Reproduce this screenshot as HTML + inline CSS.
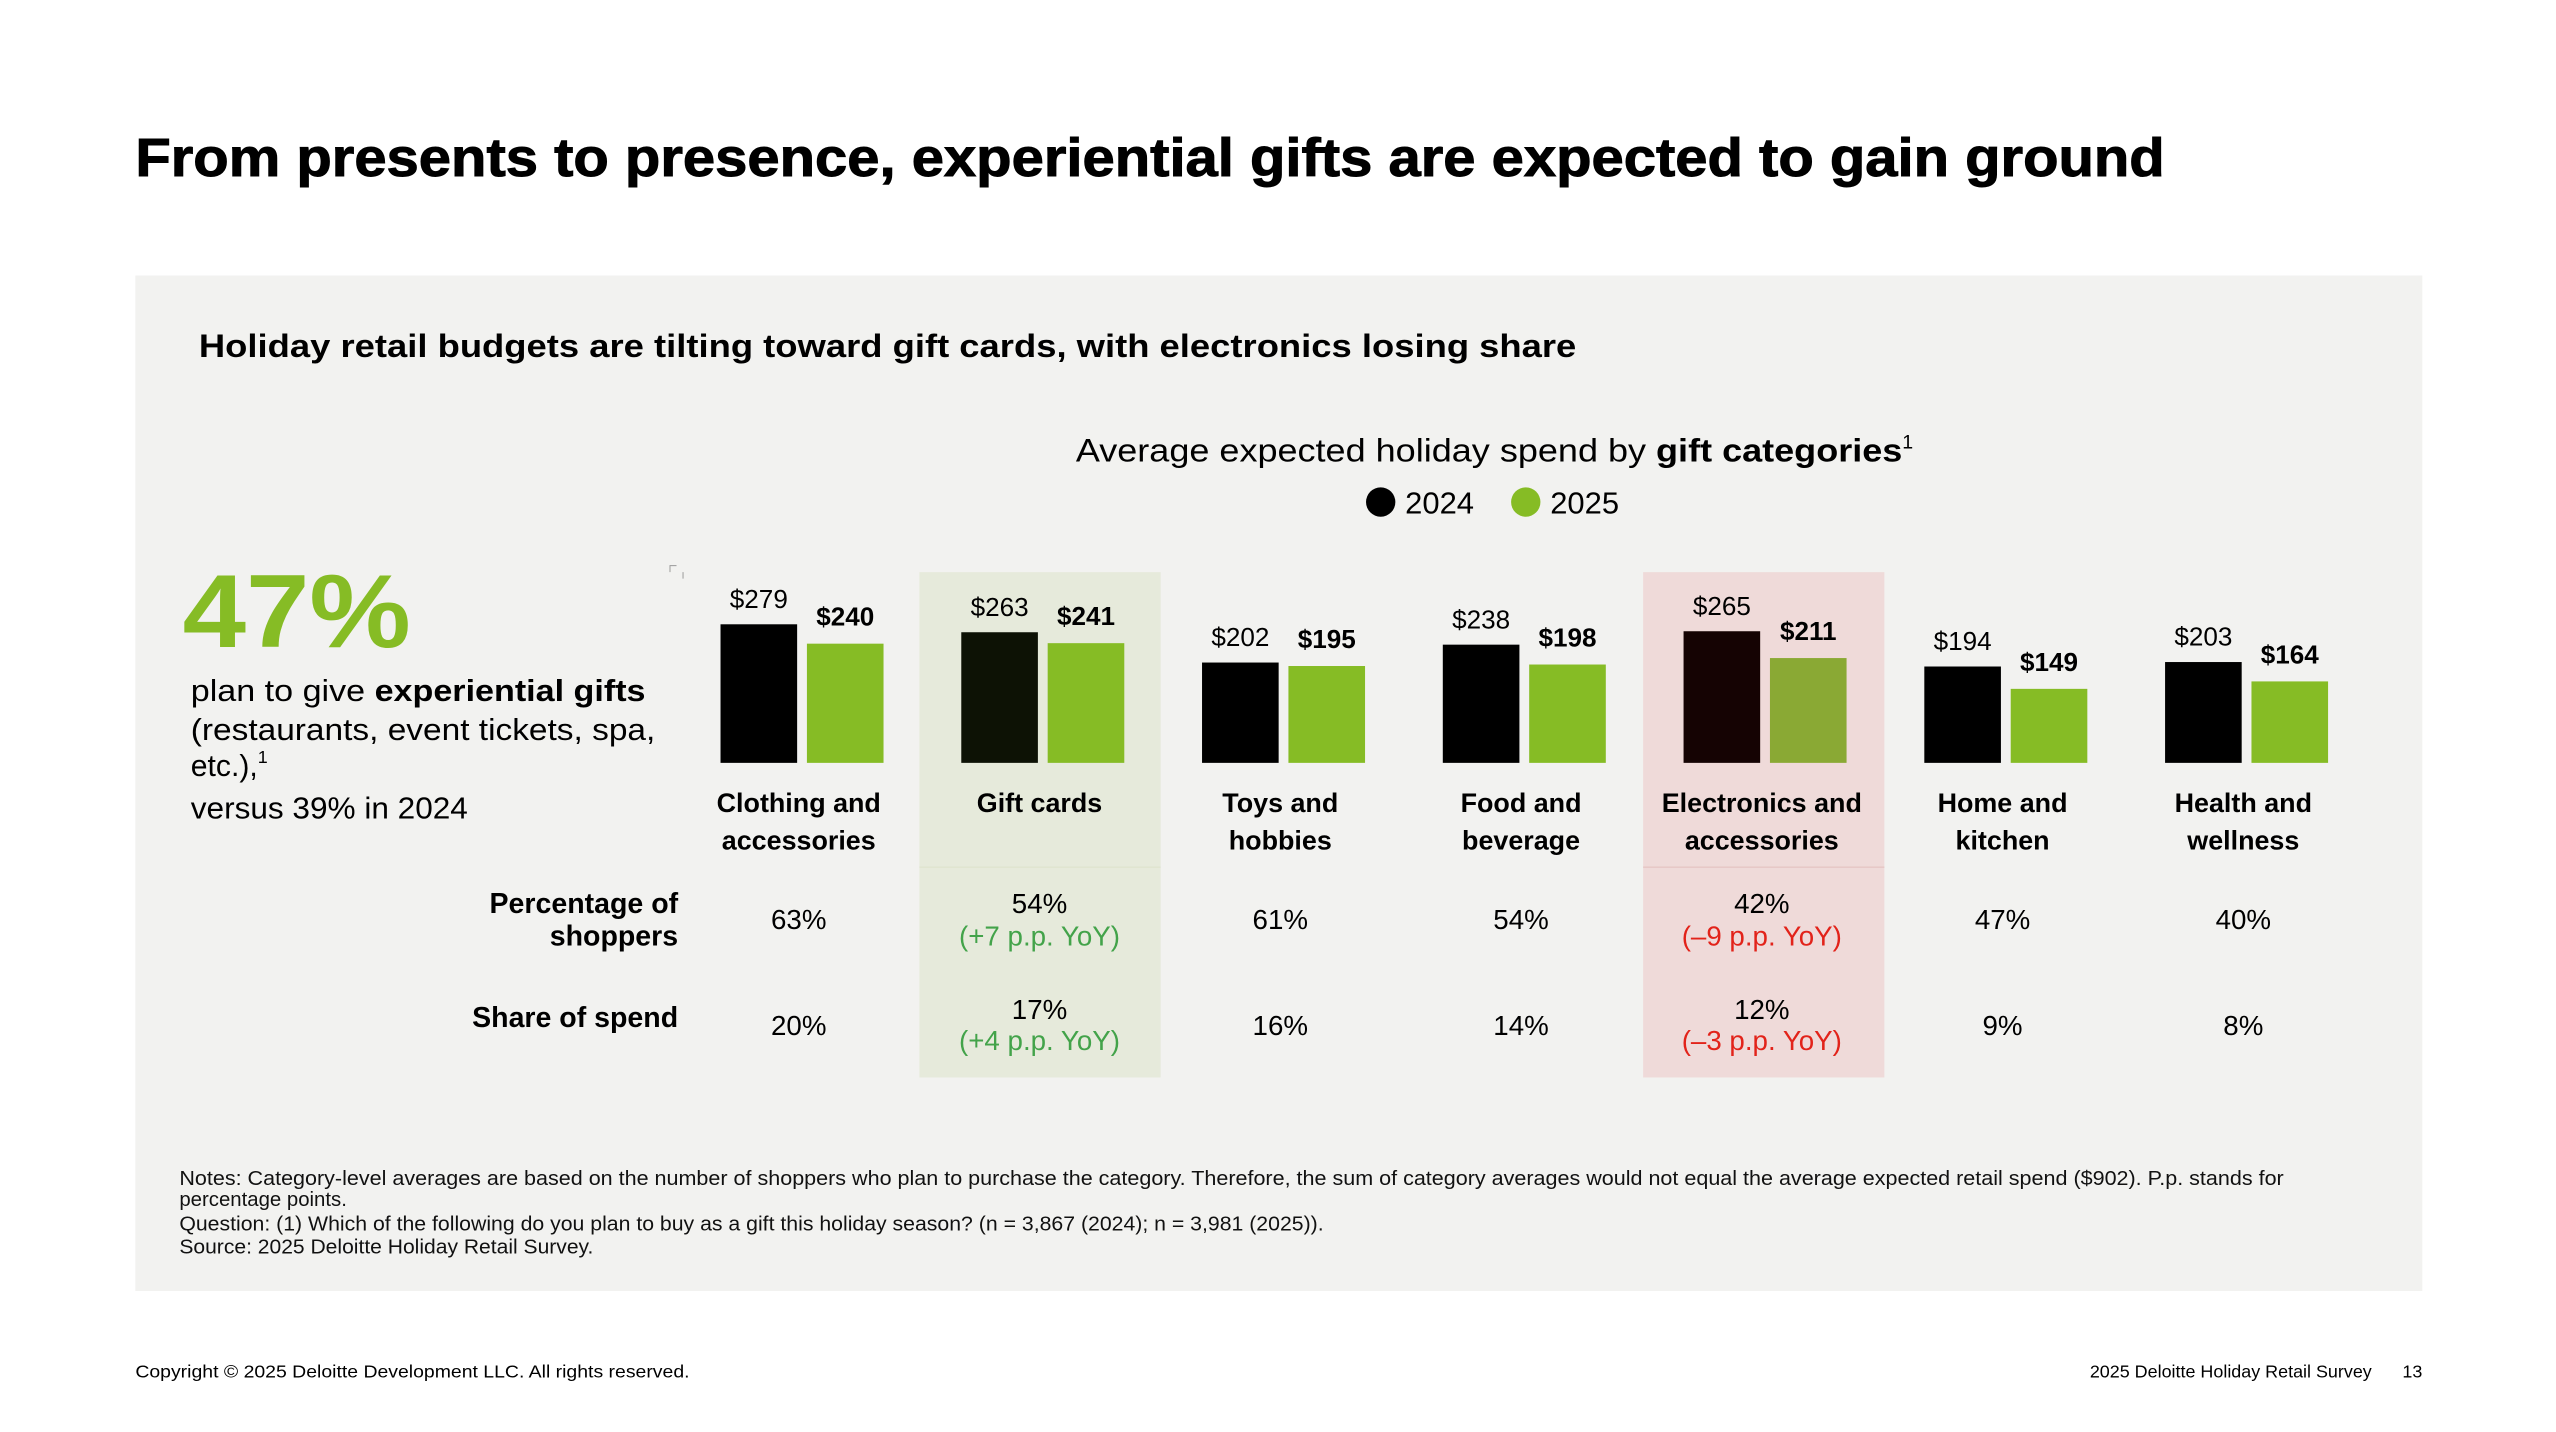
<!DOCTYPE html>
<html><head><meta charset="utf-8"><style>
html,body{margin:0;padding:0;background:#fff;}
svg{display:block;font-family:"Liberation Sans",sans-serif;}
</style></head><body>
<svg id="chart" width="2556" height="1432" viewBox="0 0 1568 878.5" xmlns="http://www.w3.org/2000/svg">
<text x="83" y="108" font-size="33" font-weight="bold" fill="#000" stroke="#000" stroke-width="0.6" textLength="1245" lengthAdjust="spacingAndGlyphs">From presents to presence, experiential gifts are expected to gain ground</text>
<rect x="83" y="169" width="1403" height="623" fill="#f2f2f0"/>
<text x="122" y="219" font-size="20" font-weight="bold" textLength="845" lengthAdjust="spacingAndGlyphs">Holiday retail budgets are tilting toward gift cards, with electronics losing share</text>
<rect x="564" y="351" width="148" height="310" fill="#e6eadb"/>
<rect x="1008" y="351" width="148" height="310" fill="#efdad9"/>
<line x1="564" y1="532" x2="712" y2="532" stroke="#dfe4cf" stroke-width="0.8"/>
<line x1="1008" y1="532" x2="1156" y2="532" stroke="#e6c6c4" stroke-width="0.8"/>
<text x="660" y="283" font-size="20" textLength="507" lengthAdjust="spacingAndGlyphs">Average expected holiday spend by <tspan font-weight="bold">gift categories</tspan></text>
<text x="1167" y="275" font-size="12">1</text>
<g>
<circle cx="847" cy="308" r="9" fill="#000"/>
<text x="862" y="315" font-size="19">2024</text>
<circle cx="936" cy="308" r="9" fill="#86bc25"/>
<text x="951" y="315" font-size="19">2025</text>
</g>
<text x="112" y="397" font-size="64" font-weight="bold" fill="#86bc25" textLength="140" lengthAdjust="spacingAndGlyphs">47%</text>
<g font-size="18.5">
<text x="117" y="430" textLength="279" lengthAdjust="spacingAndGlyphs">plan to give <tspan font-weight="bold">experiential gifts</tspan></text>
<text x="117" y="454" textLength="285" lengthAdjust="spacingAndGlyphs">(restaurants, event tickets, spa,</text>
<text x="117" y="476">etc.),<tspan font-size="11" dy="-8">1</tspan></text>
<text x="117" y="502" textLength="170" lengthAdjust="spacingAndGlyphs">versus 39% in 2024</text>
</g>
<path d="M411 351 V347 H415 M419 351 V355" stroke="#999" stroke-width="0.6" fill="none"/>
<g font-size="17.5" font-weight="bold" text-anchor="end">
<text x="416" y="560">Percentage of</text>
<text x="416" y="580">shoppers</text>
<text x="416" y="630">Share of spend</text>
</g>
<g id="bars"></g>
<g font-size="12.5" fill="#111">
<text x="110" y="727" textLength="1291" lengthAdjust="spacingAndGlyphs">Notes: Category-level averages are based on the number of shoppers who plan to purchase the category. Therefore, the sum of category averages would not equal the average expected retail spend ($902). P.p. stands for</text>
<text x="110" y="740">percentage points.</text>
<text x="110" y="755" textLength="702" lengthAdjust="spacingAndGlyphs">Question: (1) Which of the following do you plan to buy as a gift this holiday season? (n = 3,867 (2024); n = 3,981 (2025)).</text>
<text x="110" y="769" textLength="254" lengthAdjust="spacingAndGlyphs">Source: 2025 Deloitte Holiday Retail Survey.</text>
</g>
<text x="83" y="845" font-size="11" textLength="340" lengthAdjust="spacingAndGlyphs">Copyright © 2025 Deloitte Development LLC. All rights reserved.</text>
<text x="1455" y="845" font-size="11" text-anchor="end">2025 Deloitte Holiday Retail Survey</text>
<text x="1486" y="845" font-size="11" text-anchor="end">13</text>
</svg>
<script>
const categories = [["Clothing and","accessories"],["Gift cards"],["Toys and","hobbies"],["Food and","beverage"],["Electronics and","accessories"],["Home and","kitchen"],["Health and","wellness"]];
const spend2024 = [279,263,202,238,265,194,203];
const spend2025 = [240,241,195,198,211,149,164];
const shoppersPct = ["63%","54%","61%","54%","42%","47%","40%"];
const shoppersChange = ["","(+7 p.p. YoY)","","","(\u20139 p.p. YoY)","",""];
const spendShare = ["20%","17%","16%","14%","12%","9%","8%"];
const spendChange = ["","(+4 p.p. YoY)","","","(\u20133 p.p. YoY)","",""];
const NS = "http://www.w3.org/2000/svg";
const g = document.getElementById("bars");
const baseY = 468, pxPerDollar = 0.3047;
function xCenter(i){ return 492 + i*147.7; }
function yScale(v){ return baseY - v*pxPerDollar; }
function mk(tag, attrs, txt){ const e=document.createElementNS(NS,tag); for(const k in attrs) e.setAttribute(k,attrs[k]); if(txt!==undefined) e.textContent=txt; g.appendChild(e); return e; }
function changeColor(s){ return s.indexOf("+")>=0 ? "#43a34a" : "#e2231a"; }
categories.forEach((cat,i)=>{
  const cx = xCenter(i);
  const c24 = i===1 ? "#0d1205" : (i===4 ? "#150303" : "#000");
  const c25 = i===4 ? "#8aa934" : "#86bc25";
  const b1 = mk("rect",{x:cx-50,y:yScale(spend2024[i]),width:47,height:baseY-yScale(spend2024[i]),fill:c24});
  
  
  const b2 = mk("rect",{x:cx+3,y:yScale(spend2025[i]),width:47,height:baseY-yScale(spend2025[i]),fill:c25});
  
  
  const l1 = mk("text",{x:cx-26.5,y:yScale(spend2024[i])-10,"font-size":16,"text-anchor":"middle"},"$"+spend2024[i]);
  
  
  const l2 = mk("text",{x:cx+26.5,y:yScale(spend2025[i])-11,"font-size":16,"font-weight":"bold","text-anchor":"middle"},"$"+spend2025[i]);
  
  
  cat.forEach((line,j)=>{
    const t = mk("text",{x:cx-2,y:498+j*23,"font-size":16.5,"font-weight":"bold","text-anchor":"middle"},line);
    
    
  });
  if(shoppersChange[i]){
    const a = mk("text",{x:cx-2,y:560,"font-size":17,"text-anchor":"middle"},shoppersPct[i]);
    
    
    const b = mk("text",{x:cx-2,y:580,"font-size":17,"text-anchor":"middle",fill:changeColor(shoppersChange[i])},shoppersChange[i]);
    
    
  } else {
    const a = mk("text",{x:cx-2,y:570,"font-size":17,"text-anchor":"middle"},shoppersPct[i]);
    
    
  }
  if(spendChange[i]){
    const a = mk("text",{x:cx-2,y:625,"font-size":17,"text-anchor":"middle"},spendShare[i]);
    
    
    const b = mk("text",{x:cx-2,y:644,"font-size":17,"text-anchor":"middle",fill:changeColor(spendChange[i])},spendChange[i]);
    
    
  } else {
    const a = mk("text",{x:cx-2,y:635,"font-size":17,"text-anchor":"middle"},spendShare[i]);
    
    
  }
});
</script>
</body></html>
